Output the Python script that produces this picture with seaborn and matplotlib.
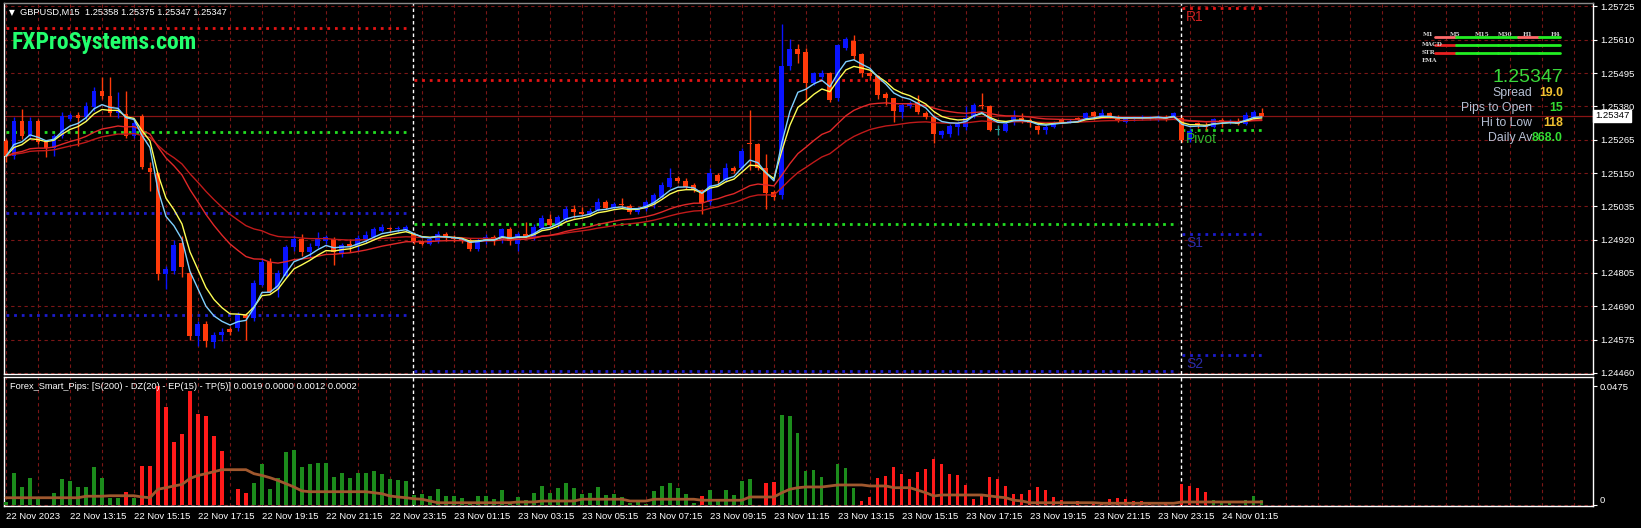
import numpy as np
import pandas as pd
import matplotlib
matplotlib.use("Agg")
import matplotlib.pyplot as plt
import matplotlib.transforms as mtransforms
from matplotlib import font_manager as fm
import seaborn as sns

# ---------------- data ----------------
symbol_title = "GBPUSD,M15  1.25358 1.25375 1.25347 1.25347"
indicator_title = "Forex_Smart_Pips: [S(200) - DZ(20) - EP(15) - TP(5)] 0.0019 0.0000 0.0012 0.0002"

opens = [1.25260, 1.25208, 1.25329, 1.25277, 1.25329, 1.25257, 1.25236, 1.25277, 1.25336, 1.25350,
         1.25343, 1.25377, 1.25433, 1.25415, 1.25357, 1.25353, 1.25277, 1.25346, 1.25167, 1.25150,
         1.24800, 1.24810, 1.24907, 1.24806, 1.24588, 1.24630, 1.24568, 1.24590, 1.24610, 1.24615,
         1.24660, 1.24650, 1.24765, 1.24844, 1.24748, 1.24795, 1.24893, 1.24921, 1.24876, 1.24897,
         1.24915, 1.24921, 1.24869, 1.24905, 1.24897, 1.24921, 1.24930, 1.24950, 1.24960, 1.24955,
         1.24952, 1.24938, 1.24915, 1.24905, 1.24915, 1.24938, 1.24926, 1.24921, 1.24918, 1.24886,
         1.24915, 1.24929, 1.24918, 1.24955, 1.24905, 1.24938, 1.24925, 1.24960, 1.24990, 1.24970,
         1.24992, 1.25026, 1.25016, 1.25010, 1.25022, 1.25050, 1.25030, 1.25042, 1.25036, 1.25014,
         1.25025, 1.25040, 1.25068, 1.25103, 1.25133, 1.25121, 1.25110, 1.25092, 1.25051, 1.25144,
         1.25127, 1.25168, 1.25168, 1.25255, 1.25250, 1.25168, 1.25083, 1.25074, 1.25519, 1.25577,
         1.25568, 1.25460, 1.25480, 1.25495, 1.25408, 1.25583, 1.25606, 1.25560, 1.25495, 1.25484,
         1.25423, 1.25408, 1.25361, 1.25382, 1.25396, 1.25358, 1.25343, 1.25282, 1.25285, 1.25310,
         1.25310, 1.25345, 1.25386, 1.25380, 1.25298, 1.25294, 1.25327, 1.25339, 1.25333, 1.25312,
         1.25298, 1.25310, 1.25333, 1.25327, 1.25339, 1.25339, 1.25360, 1.25345, 1.25357, 1.25345,
         1.25327, 1.25335, 1.25339, 1.25339, 1.25333, 1.25345, 1.25342, 1.25339, 1.25263, 1.25321,
         1.25315, 1.25310, 1.25333, 1.25321, 1.25330, 1.25319, 1.25339, 1.25358]
highs = [1.25267, 1.25343, 1.25370, 1.25343, 1.25336, 1.25260, 1.25285, 1.25360, 1.25357, 1.25360,
         1.25395, 1.25447, 1.25481, 1.25481, 1.25430, 1.25433, 1.25340, 1.25353, 1.25187, 1.25153,
         1.24830, 1.24920, 1.24931, 1.24810, 1.24640, 1.24640, 1.24600, 1.24615, 1.24620, 1.24670,
         1.24665, 1.24780, 1.24858, 1.24855, 1.24815, 1.24900, 1.24935, 1.24938, 1.24910, 1.24945,
         1.24935, 1.24930, 1.24910, 1.24921, 1.24935, 1.24950, 1.24965, 1.24975, 1.24965, 1.24968,
         1.24970, 1.24945, 1.24920, 1.24930, 1.24950, 1.24945, 1.24935, 1.24928, 1.24925, 1.24925,
         1.24940, 1.24935, 1.24960, 1.24965, 1.24945, 1.24980, 1.24975, 1.25005, 1.25010, 1.25005,
         1.25035, 1.25040, 1.25032, 1.25030, 1.25065, 1.25058, 1.25050, 1.25062, 1.25042, 1.25032,
         1.25058, 1.25080, 1.25120, 1.25168, 1.25140, 1.25133, 1.25115, 1.25095, 1.25168, 1.25150,
         1.25185, 1.25175, 1.25235, 1.25369, 1.25255, 1.25217, 1.25090, 1.25665, 1.25612, 1.25595,
         1.25580, 1.25500, 1.25505, 1.25500, 1.25595, 1.25620, 1.25625, 1.25565, 1.25500, 1.25490,
         1.25430, 1.25410, 1.25390, 1.25400, 1.25420, 1.25365, 1.25350, 1.25300, 1.25320, 1.25330,
         1.25380, 1.25392, 1.25427, 1.25386, 1.25315, 1.25325, 1.25368, 1.25357, 1.25339, 1.25315,
         1.25315, 1.25330, 1.25339, 1.25335, 1.25345, 1.25362, 1.25365, 1.25370, 1.25362, 1.25350,
         1.25345, 1.25345, 1.25351, 1.25346, 1.25350, 1.25350, 1.25362, 1.25345, 1.25305, 1.25327,
         1.25325, 1.25340, 1.25339, 1.25335, 1.25339, 1.25360, 1.25368, 1.25375]
lows = [1.25187, 1.25197, 1.25267, 1.25267, 1.25250, 1.25204, 1.25208, 1.25270, 1.25329, 1.25243,
        1.25330, 1.25364, 1.25405, 1.25346, 1.25340, 1.25270, 1.25270, 1.25163, 1.25087, 1.24782,
        1.24748, 1.24800, 1.24790, 1.24575, 1.24553, 1.24550, 1.24545, 1.24570, 1.24590, 1.24605,
        1.24574, 1.24640, 1.24760, 1.24735, 1.24723, 1.24790, 1.24880, 1.24865, 1.24860, 1.24890,
        1.24905, 1.24834, 1.24860, 1.24876, 1.24880, 1.24910, 1.24925, 1.24945, 1.24945, 1.24948,
        1.24945, 1.24905, 1.24900, 1.24900, 1.24910, 1.24915, 1.24912, 1.24910, 1.24880, 1.24880,
        1.24905, 1.24900, 1.24910, 1.24900, 1.24880, 1.24925, 1.24920, 1.24955, 1.24965, 1.24960,
        1.24985, 1.24995, 1.25000, 1.25005, 1.25018, 1.25025, 1.25025, 1.25030, 1.25008, 1.25010,
        1.25020, 1.25030, 1.25062, 1.25098, 1.25115, 1.25095, 1.25085, 1.25010, 1.25040, 1.25110,
        1.25120, 1.25150, 1.25160, 1.25162, 1.25160, 1.25027, 1.25057, 1.25060, 1.25505, 1.25530,
        1.25396, 1.25455, 1.25475, 1.25395, 1.25400, 1.25575, 1.25540, 1.25480, 1.25470, 1.25405,
        1.25385, 1.25326, 1.25340, 1.25375, 1.25355, 1.25335, 1.25255, 1.25270, 1.25275, 1.25282,
        1.25300, 1.25340, 1.25370, 1.25295, 1.25280, 1.25290, 1.25315, 1.25321, 1.25310, 1.25286,
        1.25286, 1.25305, 1.25321, 1.25322, 1.25327, 1.25335, 1.25339, 1.25340, 1.25339, 1.25327,
        1.25321, 1.25330, 1.25333, 1.25334, 1.25330, 1.25330, 1.25336, 1.25257, 1.25258, 1.25305,
        1.25300, 1.25305, 1.25310, 1.25318, 1.25315, 1.25315, 1.25333, 1.25347]
closes = [1.25208, 1.25329, 1.25277, 1.25329, 1.25257, 1.25237, 1.25277, 1.25346, 1.25350, 1.25340,
          1.25380, 1.25433, 1.25415, 1.25357, 1.25367, 1.25277, 1.25322, 1.25170, 1.25153, 1.24800,
          1.24817, 1.24903, 1.24827, 1.24588, 1.24630, 1.24570, 1.24590, 1.24600, 1.24600, 1.24660,
          1.24650, 1.24771, 1.24844, 1.24740, 1.24806, 1.24893, 1.24921, 1.24876, 1.24895, 1.24921,
          1.24928, 1.24876, 1.24900, 1.24897, 1.24925, 1.24935, 1.24955, 1.24965, 1.24955, 1.24960,
          1.24962, 1.24914, 1.24905, 1.24921, 1.24940, 1.24926, 1.24921, 1.24915, 1.24886, 1.24918,
          1.24929, 1.24918, 1.24955, 1.24915, 1.24938, 1.24930, 1.24962, 1.24993, 1.24970, 1.24998,
          1.25026, 1.25014, 1.25008, 1.25020, 1.25050, 1.25030, 1.25042, 1.25038, 1.25014, 1.25028,
          1.25050, 1.25074, 1.25109, 1.25133, 1.25124, 1.25103, 1.25092, 1.25045, 1.25150, 1.25121,
          1.25168, 1.25156, 1.25226, 1.25249, 1.25168, 1.25080, 1.25068, 1.25519, 1.25577, 1.25562,
          1.25460, 1.25495, 1.25495, 1.25402, 1.25591, 1.25612, 1.25554, 1.25495, 1.25484, 1.25419,
          1.25408, 1.25365, 1.25384, 1.25390, 1.25361, 1.25343, 1.25285, 1.25294, 1.25314, 1.25320,
          1.25339, 1.25386, 1.25380, 1.25300, 1.25298, 1.25319, 1.25345, 1.25333, 1.25321, 1.25298,
          1.25310, 1.25327, 1.25327, 1.25330, 1.25333, 1.25357, 1.25347, 1.25357, 1.25345, 1.25333,
          1.25339, 1.25342, 1.25340, 1.25342, 1.25345, 1.25336, 1.25357, 1.25263, 1.25295, 1.25315,
          1.25310, 1.25335, 1.25327, 1.25330, 1.25319, 1.25351, 1.25362, 1.25347]

hist_values = [0.0010, 0.0129, 0.0072, 0.0109, 0.0027, 0.0000, 0.0049, 0.0105, 0.0096, 0.0072,
               0.0072, 0.0152, 0.0109, 0.0029, 0.0029, 0.0052, 0.0029, 0.0156, 0.0156, 0.0475,
               0.0391, 0.0251, 0.0285, 0.0455, 0.0364, 0.0355, 0.0275, 0.0215, 0.0000, 0.0065,
               0.0049, 0.0088, 0.0162, 0.0063, 0.0109, 0.0213, 0.0219, 0.0152, 0.0162, 0.0168,
               0.0168, 0.0112, 0.0128, 0.0109, 0.0128, 0.0128, 0.0136, 0.0122, 0.0105, 0.0101,
               0.0096, 0.0040, 0.0045, 0.0036, 0.0065, 0.0036, 0.0036, 0.0029, 0.0005, 0.0036,
               0.0036, 0.0025, 0.0059, 0.0005, 0.0032, 0.0021, 0.0048, 0.0076, 0.0048, 0.0069,
               0.0088, 0.0069, 0.0044, 0.0048, 0.0072, 0.0040, 0.0044, 0.0032, 0.0009, 0.0016,
               0.0005, 0.0056, 0.0076, 0.0088, 0.0069, 0.0044, 0.0009, 0.0036, 0.0060, 0.0019,
               0.0060, 0.0040, 0.0096, 0.0104, 0.0000, 0.0088, 0.0093, 0.0359, 0.0355, 0.0287,
               0.0136, 0.0140, 0.0112, 0.0000, 0.0164, 0.0148, 0.0068, 0.0016, 0.0032, 0.0108,
               0.0116, 0.0152, 0.0124, 0.0104, 0.0132, 0.0144, 0.0184, 0.0164, 0.0124, 0.0120,
               0.0080, 0.0024, 0.0036, 0.0112, 0.0104, 0.0076, 0.0044, 0.0044, 0.0060, 0.0072,
               0.0060, 0.0032, 0.0020, 0.0000, 0.0016, 0.0000, 0.0009, 0.0005, 0.0023, 0.0028,
               0.0024, 0.0016, 0.0016, 0.0012, 0.0000, 0.0012, 0.0000, 0.0082, 0.0076, 0.0068,
               0.0052, 0.0019, 0.0009, 0.0009, 0.0000, 0.0019, 0.0036, 0.0019]
hist_side = list("ggggggggggggggg" "r" "g" "rrrrrrrrrrrrrr"
                 "gggggggggggggggggggggggggggggggggggggggggggggggggggggggg"
                 "r" "ggggggg" "rr" "gggggggggg"
                 "rrrrrrrrrrrrrrrrrrrrrrrrrrrrrrrrrrrrrrrrrrrr" "ggggggg")
signal_values = [0.0029, 0.0029, 0.0029, 0.0029, 0.0029, 0.0029, 0.0029, 0.0029, 0.0029, 0.0029,
                 0.0035, 0.0035, 0.0035, 0.0037, 0.0037, 0.0037, 0.0037, 0.0032, 0.0029, 0.0063,
                 0.0069, 0.0076, 0.0082, 0.0106, 0.0118, 0.0125, 0.0133, 0.0141, 0.0141, 0.0141,
                 0.0141, 0.0125, 0.0118, 0.0109, 0.0098, 0.0085, 0.0072, 0.0056, 0.0053, 0.0053,
                 0.0053, 0.0053, 0.0053, 0.0053, 0.0053, 0.0053, 0.0049, 0.0045, 0.0036, 0.0032,
                 0.0029, 0.0025, 0.0023, 0.0016, 0.0009, 0.0009, 0.0009, 0.0009, 0.0009, 0.0009,
                 0.0009, 0.0009, 0.0009, 0.0009, 0.0012, 0.0012, 0.0012, 0.0016, 0.0016, 0.0016,
                 0.0016, 0.0016, 0.0023, 0.0023, 0.0023, 0.0023, 0.0023, 0.0023, 0.0016, 0.0016,
                 0.0016, 0.0023, 0.0023, 0.0023, 0.0023, 0.0023, 0.0023, 0.0019, 0.0019, 0.0019,
                 0.0019, 0.0019, 0.0019, 0.0032, 0.0032, 0.0032, 0.0032, 0.0049, 0.0063, 0.0069,
                 0.0072, 0.0072, 0.0072, 0.0076, 0.0080, 0.0080, 0.0080, 0.0080, 0.0076, 0.0076,
                 0.0076, 0.0069, 0.0069, 0.0069, 0.0059, 0.0049, 0.0036, 0.0040, 0.0040, 0.0040,
                 0.0040, 0.0040, 0.0040, 0.0036, 0.0032, 0.0029, 0.0019, 0.0016, 0.0009, 0.0009,
                 0.0009, 0.0009, 0.0009, 0.0009, 0.0009, 0.0009, 0.0009, 0.0007, 0.0007, 0.0007,
                 0.0007, 0.0007, 0.0007, 0.0007, 0.0007, 0.0007, 0.0007, 0.0012, 0.0012, 0.0012,
                 0.0012, 0.0012, 0.0012, 0.0012, 0.0012, 0.0012, 0.0012, 0.0012]

x_labels = ["22 Nov 2023", "22 Nov 13:15", "22 Nov 15:15", "22 Nov 17:15", "22 Nov 19:15",
            "22 Nov 21:15", "22 Nov 23:15", "23 Nov 01:15", "23 Nov 03:15", "23 Nov 05:15",
            "23 Nov 07:15", "23 Nov 09:15", "23 Nov 11:15", "23 Nov 13:15", "23 Nov 15:15",
            "23 Nov 17:15", "23 Nov 19:15", "23 Nov 21:15", "23 Nov 23:15", "24 Nov 01:15"]
bars_per_label = 8
price_ticks = [1.24460, 1.24575, 1.24690, 1.24805, 1.24920, 1.25035, 1.25150,
               1.25265, 1.25380, 1.25495, 1.25610, 1.25725]
current_price = 1.25347
day_starts = [0, 51, 147]
day_ends = [50.5, 146.5, 157.5]
pivot_r1 = [1.25650, 1.25470, 1.25720]
pivot_p = [1.25293, 1.24974, 1.25300]
pivot_s1 = [1.25012, 1.24467, 1.24939]
pivot_s2 = [1.24658, None, 1.24522]

info_price = "1.25347"
info_labels = ["Spread", "Pips to Open", "Hi to Low", "Daily Av"]
info_values = ["19.0", "15", "118", "868.0"]
info_value_colors = ["#f2c230", "#33dd33", "#f2c230", "#33dd33"]
tf_names = ["M1", "M5", "M15", "M30", "H1", "H4"]
status_rows = ["", "MACD", "STR", "EMA"]
status_states = [[0, 1, 1, 1, 0, 1], [0, 1, 1, 1, 1, 1], [0, 1, 1, 1, 1, 1], None]

# ---------------- style ----------------
sns.set_theme(style="dark")
plt.rcParams['font.family'] = ['Liberation Sans', 'DejaVu Sans']
BG = "black"
GRID = "#7a1616"
BULL = "#0a14ff"
BEAR = "#ff3a0a"
DOJI = "#2a9a94"

W, H = 1641, 528
fig = plt.figure(figsize=(W / 100, H / 100), dpi=100, facecolor=BG)
def fx(px): return px / W
def fy(py): return 1 - py / H

ax = fig.add_axes([fx(4), fy(374), fx(1593) - fx(4), fy(3) - fy(374)])
ax2 = fig.add_axes([fx(4), fy(506), fx(1593) - fx(4), fy(377) - fy(506)])

n = len(closes)
idx = np.arange(n)
o = np.array(opens); h = np.array(highs); l = np.array(lows); c = np.array(closes)
XMIN, XMAX = -0.25, 198.4

for a in (ax, ax2):
    a.set_facecolor(BG)
    a.set_xlim(XMIN, XMAX)
    for s in a.spines.values():
        s.set_color("white")
        s.set_linewidth(1.0)
    a.grid(False)
    for gx in range(0, 200, 4):
        a.axvline(gx, color=GRID, lw=0.8, ls=(0, (3, 3)), zorder=0)
ax.spines['top'].set_color("#8a8a8a")

# ---- main panel ----
ax.set_ylim(1.24456, 1.25737)
for pt in price_ticks:
    ax.axhline(pt, color=GRID, lw=0.8, ls=(0, (3, 3)), zorder=0)
ax.axhline(current_price, color="#8a1414", lw=0.9, zorder=1)

dot = (0, (1, 1.75))
def seg_lines(vals, color):
    for v, s0, s1 in zip(vals, day_starts, day_ends):
        if v is None:
            continue
        ax.hlines(v, max(s0, XMIN), s1, colors=color, lw=2.0, linestyles=[dot], zorder=1)
seg_lines(pivot_r1, "#e41414")
seg_lines(pivot_p, "#22dd22")
seg_lines(pivot_s1, "#1c1ccc")
seg_lines(pivot_s2, "#1c1ccc")

for ds in day_starts[1:]:
    for a in (ax, ax2):
        a.axvline(ds - 0.1, color="white", lw=1.0, ls=(0, (2.5, 2)), zorder=2)

cols = np.where(c > o, BULL, np.where(c < o, BEAR, DOJI))
ax.vlines(idx, l, h, colors=cols, lw=1.0, zorder=3)
body_lo = np.minimum(o, c)
body_h = np.maximum(np.abs(c - o), 0.000035)
ax.bar(idx, body_h, bottom=body_lo, width=0.62, color=cols, linewidth=0, zorder=4)

cs = pd.Series(c)
ma_specs = [(34, "#c01a1a"), (21, "#e02828"), (7, "#ffff55"), (5, "#7fd0ff")]
for span, col in ma_specs:
    sns.lineplot(x=idx, y=cs.ewm(span=span, adjust=False).mean().values, ax=ax,
                 color=col, lw=1.0, zorder=5, legend=False)

# pivot labels of the current day
lbl_x = day_starts[-1] + 0.5
for v, t, col in [(pivot_r1[-1], "R1", "#cc2222"), (pivot_p[-1], "Pivot", "#2fb52f"),
                  (pivot_s1[-1], "S1", "#2c2ca8"), (pivot_s2[-1], "S2", "#2c2ca8")]:
    ax.text(lbl_x, v - 0.00008, t, color=col, fontsize=10, va="top", ha="left", zorder=6)

ax.yaxis.tick_right()
ax.set_yticks(price_ticks)
ax.set_yticklabels([f"{p:.5f}" for p in price_ticks])
ax.tick_params(axis="y", colors="white", labelsize=6.8, length=3, width=0.8, pad=2,
               labelcolor="white")
ax.tick_params(axis="x", bottom=False, labelbottom=False)
ax.set_xlabel(""); ax.set_ylabel("")

trans = mtransforms.blended_transform_factory(ax.transAxes, ax.transData)
ax.text(1.0012, current_price, f"{current_price:.5f}", transform=trans, color="black",
        fontsize=6.8, va="center", ha="left", zorder=10,
        bbox=dict(boxstyle="square,pad=0.18", fc="white", ec="white"))

# ---- indicator panel ----
ax2.set_ylim(-0.0004, 0.0511)
ax2.axhline(0, color=GRID, lw=0.8, ls=(0, (3, 3)), zorder=0)
hcols = ["#1c8c1c" if s == "g" else "#ff1a1a" for s in hist_side]
ax2.bar(idx, hist_values, width=0.4, color=hcols, linewidth=0, zorder=3)
sns.lineplot(x=idx, y=signal_values, ax=ax2, color="#a0582e", lw=2.0, zorder=4, legend=False)
ax2.yaxis.tick_right()
ax2.set_yticks([0, 0.0475])
ax2.set_yticklabels(["0", "0.0475"])
ax2.tick_params(axis="y", colors="white", labelsize=6.8, length=3, width=0.8, pad=2,
                labelcolor="white")
for t in ax2.get_yticklabels():
    if t.get_text() == "0":
        t.set_va("bottom")
xt = [bars_per_label * k for k in range(len(x_labels))]
ax2.set_xticks(xt)
ax2.set_xticklabels(x_labels)
ax2.tick_params(axis="x", colors="white", labelsize=6.8, length=3, width=0.8, pad=1.5,
                labelcolor="white")
for t in ax2.get_xticklabels():
    t.set_ha("left")
ax2.set_xlabel(""); ax2.set_ylabel("")
ax2.text(0.004, 0.93, indicator_title, transform=ax2.transAxes, color="white",
         fontsize=6.7, va="center", ha="left")

# ---- overlay texts ----
fig.text(fx(9), fy(12.7), "\u25BC", color="white", fontsize=5.5, va="center", ha="left",
         family=["DejaVu Sans"])
fig.text(fx(20.5), fy(12.7), symbol_title, color="white", fontsize=6.7, va="center", ha="left")

def pick_condensed():
    cands = [("Roboto Condensed", "normal"), ("Liberation Sans Narrow", "normal"),
             ("DejaVu Sans", "condensed"), ("Open Sans Condensed", "normal"),
             ("Open Sans", "condensed"), ("Roboto", "condensed")]
    for fam, stretch in cands:
        try:
            p = fm.findfont(fm.FontProperties(family=fam, weight="bold", stretch=stretch),
                            fallback_to_default=False)
        except Exception:
            continue
        if "ondensed" in p or "Narrow" in p:
            return fam, stretch
    return "Liberation Sans", "normal"

brand_fam, brand_stretch = pick_condensed()
brand = fig.text(fx(12), fy(42.5), "FXProSystems.com", color="#22ff6e", fontsize=18,
                 fontweight="bold", va="center", ha="left",
                 family=[brand_fam, "DejaVu Sans"], fontstretch=brand_stretch)
fig.canvas.draw()
bw = brand.get_window_extent().width
brand.set_fontsize(18 * 185.0 / bw)

fig.text(fx(1563), fy(77), info_price, color="#3ad83a", fontsize=14, va="center", ha="right")
for k, (lab, val, vc) in enumerate(zip(info_labels, info_values, info_value_colors)):
    yy = 92.7 + 15 * k
    fig.text(fx(1532), fy(yy), lab, color="#b6c0d4", fontsize=8.8, va="center", ha="right")
    fig.text(fx(1563), fy(yy), val, color=vc, fontsize=8.8, fontweight="bold",
             va="center", ha="right")

tf_x = [1422.7, 1450, 1475, 1498, 1522.7, 1550.7]
for name, xx in zip(tf_names, tf_x):
    fig.text(fx(xx), fy(34.5), name, color="#cfcfcf", fontsize=4.2, va="center", ha="left",
             fontweight="bold", family=["DejaVu Serif"])
row_y = [36.7, 44.7, 52.7, 60.7]
seg_edges = np.linspace(1435, 1560, 7)
for r, (rn, st, yy) in enumerate(zip(status_rows, status_states, row_y)):
    if rn:
        fig.text(fx(1422), fy(yy), rn, color="#cfcfcf", fontsize=4.2, va="center", ha="left",
                 fontweight="bold", family=["DejaVu Serif"])
    if st is None:
        continue
    bad = "#ff6a6a" if r == 0 else "#e82020"
    for k, s in enumerate(st):
        fig.add_artist(plt.Line2D([fx(seg_edges[k]), fx(seg_edges[k + 1])], [fy(yy), fy(yy)],
                                  color=("#22ee22" if s else bad), lw=2.0,
                                  transform=fig.transFigure))

fig.savefig("out.png", dpi=100, facecolor=BG)
